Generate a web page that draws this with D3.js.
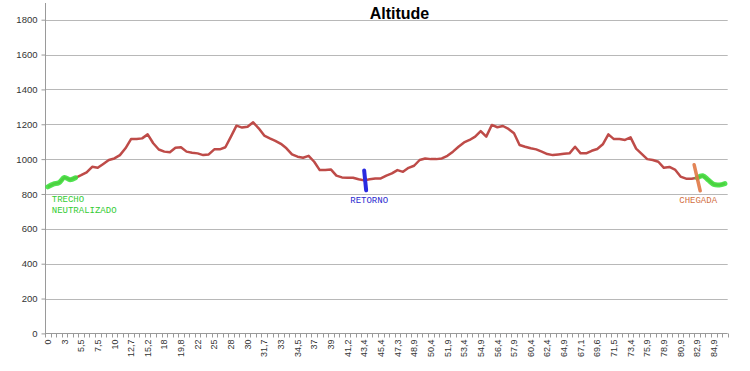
<!DOCTYPE html>
<html>
<head>
<meta charset="utf-8">
<script src="https://cdn.jsdelivr.net/npm/d3@7"></script>
<style>
  html, body { margin: 0; padding: 0; background: #fff; }
  svg { display: block; }
</style>
</head>
<body>
<svg id="chart" width="750" height="371"></svg>
<script>
const title = "Altitude";
const altitude = [
  841, 857, 864, 895, 882, 893, 908, 924, 956, 950,
  972, 995, 1004, 1023, 1062, 1115, 1115, 1119, 1142, 1091,
  1055, 1043, 1039, 1065, 1068, 1043, 1037, 1033, 1023, 1027,
  1056, 1056, 1068, 1129, 1192, 1181, 1186, 1211, 1177, 1135,
  1119, 1105, 1088, 1062, 1027, 1014, 1008, 1019, 985, 937,
  937, 941, 905, 895, 893, 893, 885, 878, 885, 889,
  889, 905, 918, 937, 927, 950, 962, 995, 1004, 1000,
  1000, 1004, 1019, 1043, 1071, 1096, 1110, 1129, 1161, 1129,
  1196, 1183, 1190, 1173, 1148, 1081, 1071, 1062, 1056, 1043,
  1029, 1023, 1027, 1031, 1033, 1071, 1033, 1033, 1048, 1058,
  1085, 1142, 1115, 1115, 1110, 1125, 1060, 1030, 1000, 995,
  985, 950, 955, 940, 900, 888, 888, 893, 905, 880,
  855, 852, 860
];
// labels shown on every 3rd category
const xTickLabels = ["0","3","5,5","7,5","10","12,7","15,2","18","19,8","22","25","28","30","31,7","33","34,5","37","39","41,2","43,4","45,4","47,3","48,9","50,4","51,9","53,4","54,9","56,4","57,9","60,4","62,4","64,9","67,1","69,6","71,5","73,4","75,9","78,9","80,9","82,9","84,9"];
const labelStep = 3;
const yTicks = [0, 200, 400, 600, 800, 1000, 1200, 1400, 1600, 1800];
const neutralStart = [0, 5];      // category index range of "TRECHO NEUTRALIZADO"
const neutralEnd = [117, 122];    // category index range after "CHEGADA"
const returnIndex = 57;           // "RETORNO"
const arrivalIndex = 117;         // "CHEGADA"

const svg = d3.select("#chart");
const plotLeft = 45, plotRight = 727.7, plotTop = 3;

const x = d3.scaleBand().domain(d3.range(altitude.length)).range([plotLeft, plotRight]).padding(0);
const y = d3.scaleLinear().domain([0, 1800]).range([333.4, 19.7]);
const cx = i => x(i) + x.bandwidth() / 2;

// gridlines
svg.append("g").selectAll("line").data(yTicks.filter(d => d > 0)).join("line")
  .attr("x1", plotLeft).attr("x2", plotRight)
  .attr("y1", d => Math.round(y(d)) + 0.5).attr("y2", d => Math.round(y(d)) + 0.5)
  .attr("stroke", "#b8b8b8").attr("stroke-width", 1);

// y axis
const yAxis = svg.append("g").attr("transform", `translate(${plotLeft + 0.5},0)`)
  .call(d3.axisLeft(y).tickValues(yTicks).tickSize(4).tickPadding(4).tickFormat(d3.format("d")));
yAxis.select(".domain").remove();
yAxis.selectAll(".tick line").attr("stroke", "#9a9a9a");
yAxis.selectAll("text").attr("font-family", "Liberation Sans, Arial, sans-serif")
  .attr("font-size", 9.5).attr("fill", "#333");
svg.append("line").attr("x1", plotLeft + 0.5).attr("x2", plotLeft + 0.5)
  .attr("y1", plotTop).attr("y2", y(0)).attr("stroke", "#9a9a9a");

// x axis
const y0 = Math.round(y(0)) + 0.5;
svg.append("line").attr("x1", plotLeft).attr("x2", plotRight).attr("y1", y0).attr("y2", y0)
  .attr("stroke", "#9a9a9a");
svg.append("g").selectAll("line").data(d3.range(altitude.length + 1)).join("line")
  .attr("x1", i => Math.round(plotLeft + i * x.bandwidth()) + 0.5)
  .attr("x2", i => Math.round(plotLeft + i * x.bandwidth()) + 0.5)
  .attr("y1", y0).attr("y2", y0 + 4).attr("stroke", "#9a9a9a");
svg.append("g").selectAll("text").data(xTickLabels).join("text")
  .attr("transform", (d, k) => `translate(${cx(k * labelStep)},${y0 + 6}) rotate(-90)`)
  .attr("text-anchor", "end").attr("dy", "0.35em")
  .attr("font-family", "Liberation Sans, Arial, sans-serif").attr("font-size", 9)
  .attr("fill", "#333").text(d => d);

// data line
const line = d3.line().x((d, i) => cx(i)).y(d => y(d));
svg.append("path").datum(altitude).attr("d", line)
  .attr("fill", "none").attr("stroke", "#be4b48").attr("stroke-width", 2.5)
  .attr("stroke-linejoin", "round");

// highlighted sections
const seg = ([a, b]) => d3.line().x(i => cx(i)).y(i => y(altitude[i])).curve(d3.curveCatmullRom)(d3.range(a, b + 1));
[neutralStart, neutralEnd].forEach(r => {
  svg.append("path").attr("d", seg(r)).attr("fill", "none")
    .attr("stroke", "#3ee03e").attr("stroke-width", 5).attr("stroke-linecap", "round")
    .attr("opacity", 0.9);
});

// return marker
const rx = cx(returnIndex) + 1, ry = y(altitude[returnIndex]);
svg.append("line").attr("x1", rx - 1).attr("y1", ry - 10).attr("x2", rx + 1).attr("y2", ry + 10)
  .attr("stroke", "#2a2ae0").attr("stroke-width", 4).attr("stroke-linecap", "round");

// arrival marker
const ax = cx(arrivalIndex), ay = y(altitude[arrivalIndex]);
svg.append("line").attr("x1", ax - 3).attr("y1", ay - 13).attr("x2", ax + 3).attr("y2", ay + 13)
  .attr("stroke", "#e07845").attr("stroke-width", 3.5).attr("stroke-linecap", "round").attr("opacity", 0.9);

// annotations
const mono = "Liberation Mono, Courier New, monospace";
svg.append("text").attr("x", cx(0) + 4).attr("y", 202).attr("font-family", mono).attr("font-size", 9)
  .attr("fill", "#33cc33").text("TRECHO");
svg.append("text").attr("x", cx(0) + 4).attr("y", 212.5).attr("font-family", mono).attr("font-size", 9)
  .attr("fill", "#33cc33").text("NEUTRALIZADO");
svg.append("text").attr("x", cx(returnIndex) + 5).attr("y", 202.5).attr("text-anchor", "middle")
  .attr("font-family", mono).attr("font-size", 9).attr("fill", "#2a2ad0").text("RETORNO");
svg.append("text").attr("x", cx(arrivalIndex) + 1).attr("y", 202.5).attr("text-anchor", "middle")
  .attr("font-family", mono).attr("font-size", 9).attr("fill", "#d2703f").text("CHEGADA");

// title
svg.append("text").attr("x", 399.5).attr("y", 19).attr("text-anchor", "middle")
  .attr("font-family", "Liberation Sans, Arial, sans-serif").attr("font-weight", "bold")
  .attr("font-size", 16).attr("fill", "#000").text(title);
</script>
</body>
</html>
